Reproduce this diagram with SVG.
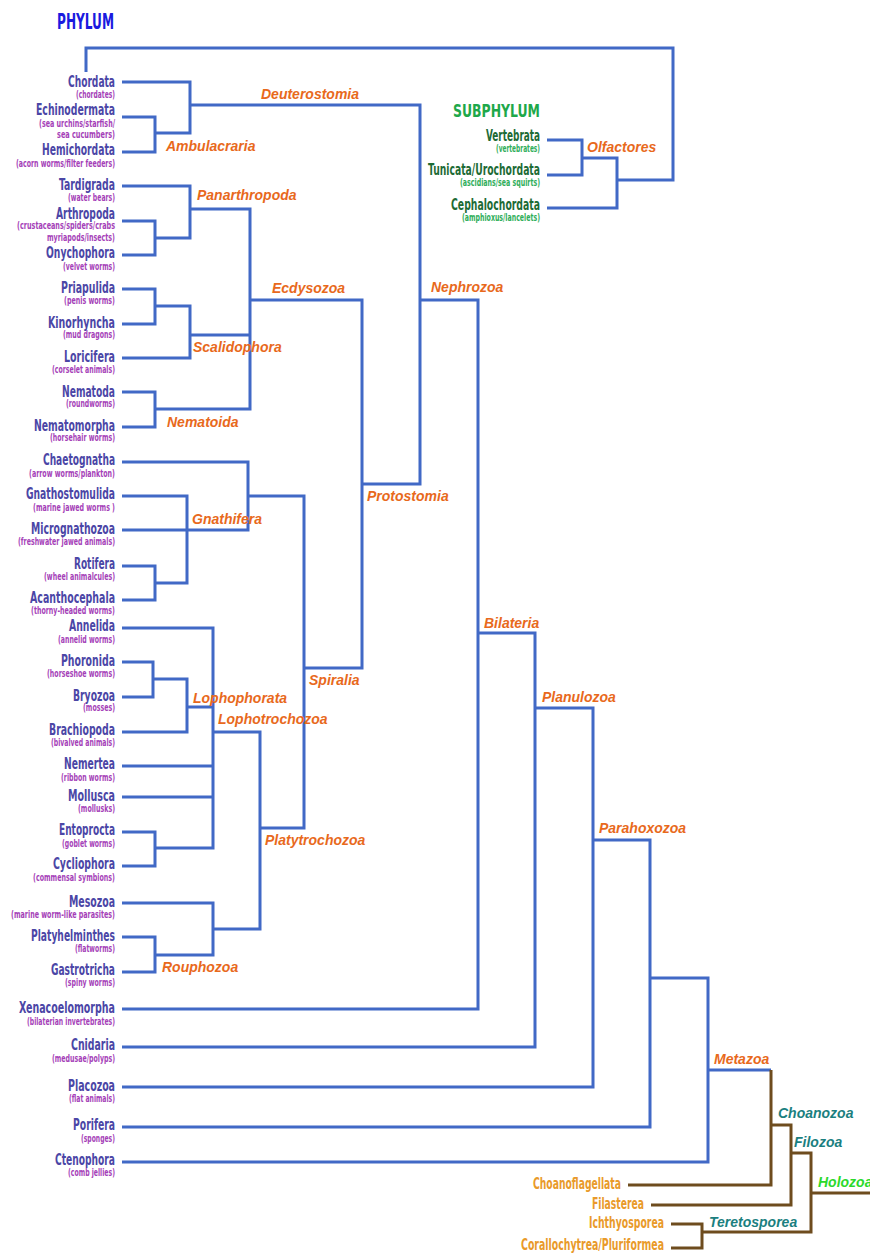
<svg xmlns="http://www.w3.org/2000/svg" width="870" height="1253" viewBox="0 0 870 1253">
<style>
.bl{fill:none;stroke:#4169c6;stroke-width:3;stroke-linejoin:miter;stroke-linecap:butt}
.br{fill:none;stroke:#6e4c1e;stroke-width:3;stroke-linejoin:miter}
.nm{font-family:"DejaVu Sans Condensed","DejaVu Sans",sans-serif;font-weight:bold;font-size:16px;fill:#4b46a6;text-anchor:end}
.sb{font-family:"DejaVu Sans Condensed","DejaVu Sans",sans-serif;font-weight:bold;font-size:10.5px;fill:#a53fb8;text-anchor:end}
.snm{font-family:"DejaVu Sans Condensed","DejaVu Sans",sans-serif;font-weight:bold;font-size:16px;fill:#1d6b35;text-anchor:end}
.ssb{font-family:"DejaVu Sans Condensed","DejaVu Sans",sans-serif;font-weight:bold;font-size:10.5px;fill:#2fae5a;text-anchor:end}
.hnm{font-family:"DejaVu Sans Condensed","DejaVu Sans",sans-serif;font-weight:bold;font-size:16px;fill:#e99a2a;text-anchor:end}
.hd{font-family:"DejaVu Sans Condensed","DejaVu Sans",sans-serif;font-weight:bold}
.cl{font-family:"Liberation Sans",Arial,sans-serif;font-weight:bold;font-style:italic;font-size:14px;fill:#e8691c}
.tl{fill:#1b7f7f}
.gl{fill:#2bd92b}
</style>
<rect width="870" height="1253" fill="#ffffff"/>
<g id="connectors">
<path class="bl" d="M86,72 V48 H673 V180 H617"/>
<path class="bl" d="M547,140 H582 V175 H547 M582,158 H617 V208 H547"/>
<path class="bl" d="M122,82 H190 V133 H155 M122,117 H155 V152 H122 M190,105 H420 V484 H362"/>
<path class="bl" d="M122,186 H190 V238 H155 M122,221 H155 V255 H122 M190,209 H250 V409 H155 M122,289 H155 V324 H122 M155,306 H190 V358 H122 M190,335 H250 M122,392 H155 V427 H122 M250,300 H362 V668 H304"/>
<path class="bl" d="M122,462 H248 V530 H122 M122,496 H187 V583 H155 M122,566 H155 V600 H122 M248,496 H304 V828 H260"/>
<path class="bl" d="M122,628 H213 V848 H155 M122,662 H153 V697 H122 M153,679 H187 V732 H122 M187,707 H213 M122,766 H213 M122,797 H213 M122,832 H155 V866 H122 M213,732 H260 V929 H213 M122,903 H213 V955 H155 M122,937 H155 V972 H122"/>
<path class="bl" d="M420,300 H478 V1009 H122 M478,633 H535 V1047 H122 M535,708 H593 V1087 H122 M593,840 H650 V1127 H122 M650,978 H708 V1162 H122 M708,1070 H771"/>
<path class="br" d="M771,1070 V1185 H628 M771,1125 H791 V1205 H651 M791,1153 H811 V1232 H702 M671,1224 H702 V1248 H671 M811,1193 H870"/>
</g>
<g id="headers">
<text class="hd" x="114" y="29" font-size="21" fill="#1a1adf" text-anchor="end" textLength="57" lengthAdjust="spacingAndGlyphs">PHYLUM</text>
<text class="hd" x="540" y="117" font-size="18" fill="#1ea84a" text-anchor="end" textLength="87" lengthAdjust="spacingAndGlyphs">SUBPHYLUM</text>
</g>
<g id="leaf-chordata"><text class="nm" x="115" y="87" textLength="47" lengthAdjust="spacingAndGlyphs">Chordata</text><text class="sb" x="115" y="98" textLength="39" lengthAdjust="spacingAndGlyphs">(chordates)</text></g>
<g id="leaf-echinodermata"><text class="nm" x="115" y="115" textLength="79" lengthAdjust="spacingAndGlyphs">Echinodermata</text><text class="sb" x="115" y="127" textLength="76" lengthAdjust="spacingAndGlyphs">(sea urchins/starfish/</text><text class="sb" x="115" y="138" textLength="58" lengthAdjust="spacingAndGlyphs">sea cucumbers)</text></g>
<g id="leaf-hemichordata"><text class="nm" x="115" y="155" textLength="73" lengthAdjust="spacingAndGlyphs">Hemichordata</text><text class="sb" x="115" y="167" textLength="99" lengthAdjust="spacingAndGlyphs">(acorn worms/filter feeders)</text></g>
<g id="leaf-tardigrada"><text class="nm" x="115" y="190" textLength="56" lengthAdjust="spacingAndGlyphs">Tardigrada</text><text class="sb" x="115" y="201" textLength="47" lengthAdjust="spacingAndGlyphs">(water bears)</text></g>
<g id="leaf-arthropoda"><text class="nm" x="115" y="219" textLength="59" lengthAdjust="spacingAndGlyphs">Arthropoda</text><text class="sb" x="115" y="229" textLength="98" lengthAdjust="spacingAndGlyphs">(crustaceans/spiders/crabs</text><text class="sb" x="115" y="241" textLength="68" lengthAdjust="spacingAndGlyphs">myriapods/insects)</text></g>
<g id="leaf-onychophora"><text class="nm" x="115" y="258" textLength="69" lengthAdjust="spacingAndGlyphs">Onychophora</text><text class="sb" x="115" y="270" textLength="52" lengthAdjust="spacingAndGlyphs">(velvet worms)</text></g>
<g id="leaf-priapulida"><text class="nm" x="115" y="293" textLength="54" lengthAdjust="spacingAndGlyphs">Priapulida</text><text class="sb" x="115" y="304" textLength="51" lengthAdjust="spacingAndGlyphs">(penis worms)</text></g>
<g id="leaf-kinorhyncha"><text class="nm" x="115" y="328" textLength="67" lengthAdjust="spacingAndGlyphs">Kinorhyncha</text><text class="sb" x="115" y="338" textLength="52" lengthAdjust="spacingAndGlyphs">(mud dragons)</text></g>
<g id="leaf-loricifera"><text class="nm" x="115" y="362" textLength="51" lengthAdjust="spacingAndGlyphs">Loricifera</text><text class="sb" x="115" y="373" textLength="63" lengthAdjust="spacingAndGlyphs">(corselet animals)</text></g>
<g id="leaf-nematoda"><text class="nm" x="115" y="397" textLength="53" lengthAdjust="spacingAndGlyphs">Nematoda</text><text class="sb" x="115" y="407" textLength="49" lengthAdjust="spacingAndGlyphs">(roundworms)</text></g>
<g id="leaf-nematomorpha"><text class="nm" x="115" y="431" textLength="81" lengthAdjust="spacingAndGlyphs">Nematomorpha</text><text class="sb" x="115" y="441" textLength="65" lengthAdjust="spacingAndGlyphs">(horsehair worms)</text></g>
<g id="leaf-chaetognatha"><text class="nm" x="115" y="465" textLength="72" lengthAdjust="spacingAndGlyphs">Chaetognatha</text><text class="sb" x="115" y="477" textLength="86" lengthAdjust="spacingAndGlyphs">(arrow worms/plankton)</text></g>
<g id="leaf-gnathostomulida"><text class="nm" x="115" y="499" textLength="89" lengthAdjust="spacingAndGlyphs">Gnathostomulida</text><text class="sb" x="115" y="511" textLength="82" lengthAdjust="spacingAndGlyphs">(marine jawed worms )</text></g>
<g id="leaf-micrognathozoa"><text class="nm" x="115" y="534" textLength="84" lengthAdjust="spacingAndGlyphs">Micrognathozoa</text><text class="sb" x="115" y="545" textLength="97" lengthAdjust="spacingAndGlyphs">(freshwater jawed animals)</text></g>
<g id="leaf-rotifera"><text class="nm" x="115" y="569" textLength="41" lengthAdjust="spacingAndGlyphs">Rotifera</text><text class="sb" x="115" y="580" textLength="71" lengthAdjust="spacingAndGlyphs">(wheel animalcules)</text></g>
<g id="leaf-acanthocephala"><text class="nm" x="115" y="603" textLength="85" lengthAdjust="spacingAndGlyphs">Acanthocephala</text><text class="sb" x="115" y="614" textLength="84" lengthAdjust="spacingAndGlyphs">(thorny-headed worms)</text></g>
<g id="leaf-annelida"><text class="nm" x="115" y="631" textLength="46" lengthAdjust="spacingAndGlyphs">Annelida</text><text class="sb" x="115" y="643" textLength="57" lengthAdjust="spacingAndGlyphs">(annelid worms)</text></g>
<g id="leaf-phoronida"><text class="nm" x="115" y="666" textLength="54" lengthAdjust="spacingAndGlyphs">Phoronida</text><text class="sb" x="115" y="677" textLength="68" lengthAdjust="spacingAndGlyphs">(horseshoe worms)</text></g>
<g id="leaf-bryozoa"><text class="nm" x="115" y="701" textLength="42" lengthAdjust="spacingAndGlyphs">Bryozoa</text><text class="sb" x="115" y="711" textLength="32" lengthAdjust="spacingAndGlyphs">(mosses)</text></g>
<g id="leaf-brachiopoda"><text class="nm" x="115" y="735" textLength="66" lengthAdjust="spacingAndGlyphs">Brachiopoda</text><text class="sb" x="115" y="746" textLength="64" lengthAdjust="spacingAndGlyphs">(bivalved animals)</text></g>
<g id="leaf-nemertea"><text class="nm" x="115" y="769" textLength="51" lengthAdjust="spacingAndGlyphs">Nemertea</text><text class="sb" x="115" y="781" textLength="54" lengthAdjust="spacingAndGlyphs">(ribbon worms)</text></g>
<g id="leaf-mollusca"><text class="nm" x="115" y="801" textLength="47" lengthAdjust="spacingAndGlyphs">Mollusca</text><text class="sb" x="115" y="812" textLength="37" lengthAdjust="spacingAndGlyphs">(mollusks)</text></g>
<g id="leaf-entoprocta"><text class="nm" x="115" y="835" textLength="56" lengthAdjust="spacingAndGlyphs">Entoprocta</text><text class="sb" x="115" y="847" textLength="53" lengthAdjust="spacingAndGlyphs">(goblet worms)</text></g>
<g id="leaf-cycliophora"><text class="nm" x="115" y="869" textLength="62" lengthAdjust="spacingAndGlyphs">Cycliophora</text><text class="sb" x="115" y="881" textLength="82" lengthAdjust="spacingAndGlyphs">(commensal symbions)</text></g>
<g id="leaf-mesozoa"><text class="nm" x="115" y="907" textLength="46" lengthAdjust="spacingAndGlyphs">Mesozoa</text><text class="sb" x="115" y="918" textLength="104" lengthAdjust="spacingAndGlyphs">(marine worm-like parasites)</text></g>
<g id="leaf-platyhelminthes"><text class="nm" x="115" y="941" textLength="84" lengthAdjust="spacingAndGlyphs">Platyhelminthes</text><text class="sb" x="115" y="952" textLength="40" lengthAdjust="spacingAndGlyphs">(flatworms)</text></g>
<g id="leaf-gastrotricha"><text class="nm" x="115" y="975" textLength="64" lengthAdjust="spacingAndGlyphs">Gastrotricha</text><text class="sb" x="115" y="986" textLength="50" lengthAdjust="spacingAndGlyphs">(spiny worms)</text></g>
<g id="leaf-xenacoelomorpha"><text class="nm" x="115" y="1013" textLength="96" lengthAdjust="spacingAndGlyphs">Xenacoelomorpha</text><text class="sb" x="115" y="1025" textLength="88" lengthAdjust="spacingAndGlyphs">(bilaterian invertebrates)</text></g>
<g id="leaf-cnidaria"><text class="nm" x="115" y="1050" textLength="44" lengthAdjust="spacingAndGlyphs">Cnidaria</text><text class="sb" x="115" y="1062" textLength="63" lengthAdjust="spacingAndGlyphs">(medusae/polyps)</text></g>
<g id="leaf-placozoa"><text class="nm" x="115" y="1091" textLength="47" lengthAdjust="spacingAndGlyphs">Placozoa</text><text class="sb" x="115" y="1102" textLength="46" lengthAdjust="spacingAndGlyphs">(flat animals)</text></g>
<g id="leaf-porifera"><text class="nm" x="115" y="1130" textLength="42" lengthAdjust="spacingAndGlyphs">Porifera</text><text class="sb" x="115" y="1142" textLength="34" lengthAdjust="spacingAndGlyphs">(sponges)</text></g>
<g id="leaf-ctenophora"><text class="nm" x="115" y="1165" textLength="60" lengthAdjust="spacingAndGlyphs">Ctenophora</text><text class="sb" x="115" y="1176" textLength="47" lengthAdjust="spacingAndGlyphs">(comb jellies)</text></g>
<g id="leaf-vertebrata"><text class="snm" x="540" y="141" textLength="54" lengthAdjust="spacingAndGlyphs">Vertebrata</text><text class="ssb" x="540" y="152" textLength="44" lengthAdjust="spacingAndGlyphs">(vertebrates)</text></g>
<g id="leaf-tunicata"><text class="snm" x="540" y="175" textLength="112" lengthAdjust="spacingAndGlyphs">Tunicata/Urochordata</text><text class="ssb" x="540" y="186" textLength="80" lengthAdjust="spacingAndGlyphs">(ascidians/sea squirts)</text></g>
<g id="leaf-cephalochordata"><text class="snm" x="540" y="210" textLength="89" lengthAdjust="spacingAndGlyphs">Cephalochordata</text><text class="ssb" x="540" y="221" textLength="78" lengthAdjust="spacingAndGlyphs">(amphioxus/lancelets)</text></g>
<g id="leaf-choanoflagellata"><text class="hnm" x="621" y="1189" textLength="88" lengthAdjust="spacingAndGlyphs">Choanoflagellata</text></g>
<g id="leaf-filasterea"><text class="hnm" x="644" y="1209" textLength="52" lengthAdjust="spacingAndGlyphs">Filasterea</text></g>
<g id="leaf-ichthyosporea"><text class="hnm" x="664" y="1228" textLength="75" lengthAdjust="spacingAndGlyphs">Ichthyosporea</text></g>
<g id="leaf-corallochytrea"><text class="hnm" x="664" y="1250" textLength="143" lengthAdjust="spacingAndGlyphs">Corallochytrea/Pluriformea</text></g>
<g id="clade-ambulacraria"><text class="cl" x="166" y="151">Ambulacraria</text></g>
<g id="clade-deuterostomia"><text class="cl" x="261" y="99">Deuterostomia</text></g>
<g id="clade-olfactores"><text class="cl" x="587" y="152">Olfactores</text></g>
<g id="clade-panarthropoda"><text class="cl" x="197" y="200">Panarthropoda</text></g>
<g id="clade-ecdysozoa"><text class="cl" x="272" y="293">Ecdysozoa</text></g>
<g id="clade-scalidophora"><text class="cl" x="193" y="352">Scalidophora</text></g>
<g id="clade-nematoida"><text class="cl" x="167" y="427">Nematoida</text></g>
<g id="clade-nephrozoa"><text class="cl" x="431" y="292">Nephrozoa</text></g>
<g id="clade-gnathifera"><text class="cl" x="192" y="524">Gnathifera</text></g>
<g id="clade-protostomia"><text class="cl" x="367" y="501">Protostomia</text></g>
<g id="clade-spiralia"><text class="cl" x="309" y="685">Spiralia</text></g>
<g id="clade-lophophorata"><text class="cl" x="193" y="703">Lophophorata</text></g>
<g id="clade-lophotrochozoa"><text class="cl" x="218" y="724">Lophotrochozoa</text></g>
<g id="clade-platytrochozoa"><text class="cl" x="265" y="845">Platytrochozoa</text></g>
<g id="clade-rouphozoa"><text class="cl" x="162" y="972">Rouphozoa</text></g>
<g id="clade-bilateria"><text class="cl" x="484" y="628">Bilateria</text></g>
<g id="clade-planulozoa"><text class="cl" x="542" y="702">Planulozoa</text></g>
<g id="clade-parahoxozoa"><text class="cl" x="599" y="833">Parahoxozoa</text></g>
<g id="clade-metazoa"><text class="cl" x="714" y="1064">Metazoa</text></g>
<g id="clade-choanozoa"><text class="cl tl" x="778" y="1118">Choanozoa</text></g>
<g id="clade-filozoa"><text class="cl tl" x="794" y="1147">Filozoa</text></g>
<g id="clade-holozoa"><text class="cl gl" x="818" y="1187">Holozoa</text></g>
<g id="clade-teretosporea"><text class="cl tl" x="709" y="1227">Teretosporea</text></g>
</svg>
